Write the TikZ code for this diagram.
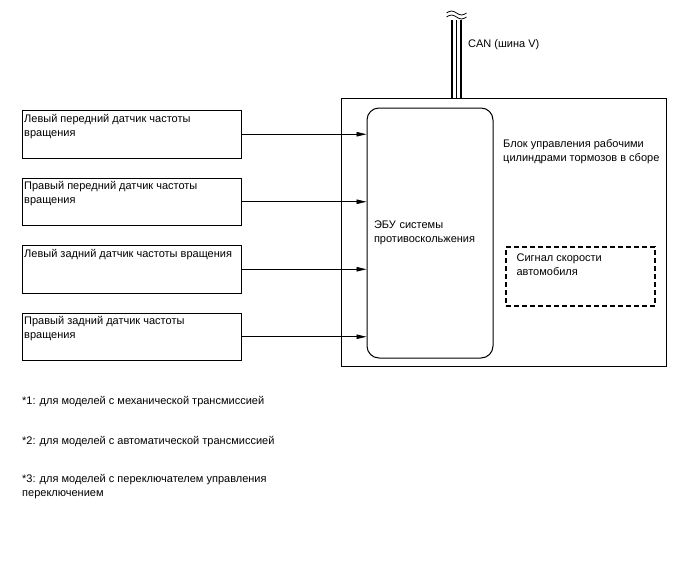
\documentclass[tikz,border=0pt]{standalone}
\usepackage{fontspec}
\setmainfont{Liberation Sans}
\usetikzlibrary{arrows.meta,positioning}

\begin{document}
\begin{tikzpicture}[x=1pt,y=-1pt,
  font=\fontsize{11}{14}\selectfont,
  sensor/.style={draw,line width=1pt,minimum width=219pt,minimum height=47.5pt,
                 inner sep=0pt},
  txt/.style={anchor=north west,inner xsep=2pt,inner ysep=4pt,align=left},
  ecubox/.style={draw,line width=1pt,rounded corners=12pt,minimum width=126pt,
                 minimum height=250pt,text width=112pt,inner xsep=7pt,align=left},
  dashbox/.style={draw,line width=1.2pt,dash pattern=on 5pt off 3pt,
                  minimum width=149pt,minimum height=59pt,inner sep=0pt},
  sig/.style={-{Triangle[length=10pt,width=4.5pt]},line width=0.9pt},
  fn/.style={anchor=north west,inner sep=0pt,align=left}
]
\useasboundingbox (0,0) rectangle (688,560);

% sensors
\node[sensor,anchor=north west] (lf) at (22,110) {};
\node[sensor,below=19pt of lf] (rf) {};
\node[sensor,below=19pt of rf] (lr) {};
\node[sensor,below=19pt of lr] (rr) {};
\node[txt] at (lf.north west) {Левый передний датчик частоты\\вращения};
\node[txt] at (rf.north west) {Правый передний датчик частоты\\вращения};
\node[txt] at (lr.north west) {Левый задний датчик частоты вращения};
\node[txt] at (rr.north west) {Правый задний датчик частоты\\вращения};

% brake actuator assembly
\node[draw,line width=1pt,minimum width=325pt,minimum height=268pt,inner sep=0pt]
  (blk) at (503.5,232) {};
\node[txt,inner xsep=0pt,inner ysep=0pt] (blklbl) at (503,139)
  {Блок управления рабочими\\цилиндрами тормозов в сборе};
\node[ecubox] (ecu) at (430,233) {ЭБУ системы\\противоскольжения};
\node[dashbox] (spd) at (580.5,276.5) {};
\node[txt,inner xsep=11pt,inner ysep=7pt] at (spd.north west)
  {Сигнал скорости\\автомобиля};

\foreach \s in {lf,rf,lr,rr}
  \draw[sig] (\s.east) -- (\s.east -| ecu.west);

% CAN bus
\coordinate (can) at (456.5,20);
\foreach \dx in {-4.5,0,4.5}
  \draw[line width=1.5pt] ([xshift=\dx pt]can) -- ([xshift=\dx pt]can |- blk.north);
\foreach \dy in {-7,-3}
  \draw[line width=0.8pt] ([shift={(-10,\dy)}]can) sin ++(5,-2) cos ++(5,2)
    sin ++(5,2) cos ++(5,-2);
\node[anchor=west,inner sep=0pt] (canlbl) at (468,45) {CAN (шина V)};

% notes
\node[fn] (fn1) at (22,396.5) {*1: для моделей с механической трансмиссией};
\node[fn] (fn2) at (22,436) {*2: для моделей с автоматической трансмиссией};
\node[fn] (fn3) at (22,474.5)
  {*3: для моделей с переключателем управления\\переключением};
\end{tikzpicture}
\end{document}
